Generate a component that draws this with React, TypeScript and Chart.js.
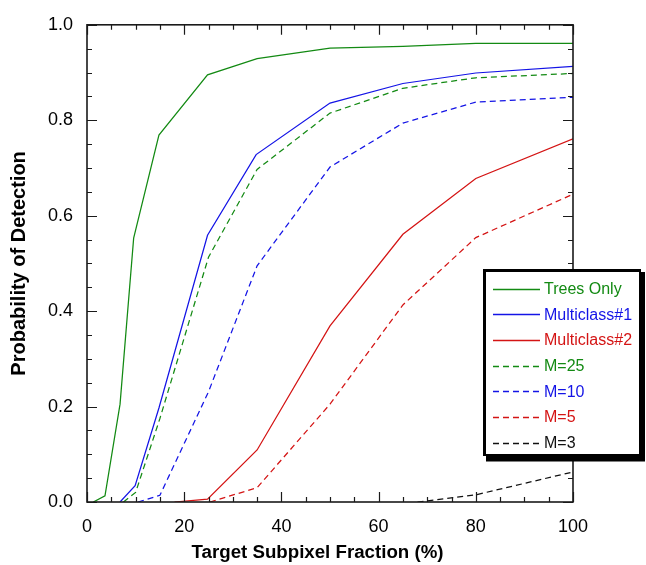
import React, { useEffect, useRef } from "react";
import { Chart, registerables } from "chart.js";

Chart.register(...registerables);

const GREEN = "#138a13";
const BLUE = "#1414e6";
const RED = "#d41414";
const BLACK = "#111111";

// Series values (x = target subpixel fraction %, y = probability of detection)
const treesOnlyX = [1.3, 3.7, 6.8, 9.6, 14.8, 24.8, 35, 50, 65, 80, 100];
const treesOnlyY = [0, 0.013, 0.205, 0.553, 0.769, 0.895, 0.929, 0.951, 0.955, 0.961, 0.961];

const multi1X = [6.8, 9.9, 14.8, 24.8, 34.8, 50, 65, 80, 100];
const multi1Y = [0, 0.034, 0.197, 0.559, 0.728, 0.836, 0.877, 0.899, 0.913];

const multi2X = [18, 24.8, 35, 50, 65, 80, 100];
const multi2Y = [0, 0.006, 0.109, 0.369, 0.561, 0.678, 0.761];

const m25X = [7.5, 10, 15, 25, 35, 50, 65, 80, 100];
const m25Y = [0, 0.02, 0.175, 0.513, 0.697, 0.815, 0.867, 0.889, 0.898];

const m10X = [10.5, 15, 25, 35, 50, 65, 80, 100];
const m10Y = [0, 0.014, 0.231, 0.495, 0.702, 0.794, 0.838, 0.848];

const m5X = [25.3, 35, 50, 65, 80, 100];
const m5Y = [0, 0.03, 0.205, 0.413, 0.554, 0.645];

const m3X = [68, 80, 100];
const m3Y = [0, 0.015, 0.063];

const seriesLabels = ["Trees Only", "Multiclass#1", "Multiclass#2", "M=25", "M=10", "M=5", "M=3"];
const seriesColors = [GREEN, BLUE, RED, GREEN, BLUE, RED, BLACK];
const seriesDashed = [false, false, false, true, true, true, true];
const seriesXs = [treesOnlyX, multi1X, multi2X, m25X, m10X, m5X, m3X];
const seriesYs = [treesOnlyY, multi1Y, multi2Y, m25Y, m10Y, m5Y, m3Y];

const xTickValues = [0, 20, 40, 60, 80, 100];
const yTickValues = [0, 0.2, 0.4, 0.6, 0.8, 1.0];

const xTitle = "Target Subpixel Fraction (%)";
const yTitle = "Probability of Detection";

const DASH = [6, 4];
const FONT = "'Liberation Sans', Arial, Helvetica, sans-serif";

const framePlugin = {
  id: "frameAndLegend",
  afterDatasetsDraw(chart: any) {
    const { ctx, chartArea, scales } = chart;
    const { left, right, top, bottom } = chartArea;
    const xs = scales.x;
    const ys = scales.y;
    ctx.save();
    // frame
    ctx.strokeStyle = "#1a1a1a";
    ctx.lineWidth = 1.6;
    ctx.setLineDash([]);
    ctx.strokeRect(left, top, right - left, bottom - top);
    // ticks
    ctx.lineWidth = 1.2;
    ctx.beginPath();
    for (let v = 0; v <= 100.001; v += 5) {
      const px = Math.round(xs.getPixelForValue(v)) + 0.5;
      const len = v % 20 === 0 ? 10 : 5;
      ctx.moveTo(px, bottom);
      ctx.lineTo(px, bottom - len);
      ctx.moveTo(px, top);
      ctx.lineTo(px, top + len);
    }
    for (let i = 0; i <= 20; i++) {
      const v = i * 0.05;
      const py = Math.round(ys.getPixelForValue(v)) + 0.5;
      const len = i % 4 === 0 ? 10 : 5;
      ctx.moveTo(left, py);
      ctx.lineTo(left + len, py);
      ctx.moveTo(right, py);
      ctx.lineTo(right - len, py);
    }
    ctx.stroke();

    // axis titles
    ctx.fillStyle = "#000";
    ctx.textBaseline = "alphabetic";
    ctx.textAlign = "center";
    ctx.font = `bold 18.7px ${FONT}`;
    ctx.fillText(xTitle, 317.5, 557.5);
    ctx.save();
    ctx.translate(24.5, (top + bottom) / 2);
    ctx.rotate(-Math.PI / 2);
    ctx.font = `bold 20px ${FONT}`;
    ctx.fillText(yTitle, 0, 0);
    ctx.restore();

    // legend box with shadow
    ctx.fillStyle = "#000";
    ctx.fillRect(486, 272, 159, 189.5);
    ctx.fillRect(483, 269, 158, 187);
    ctx.fillStyle = "#fff";
    ctx.fillRect(486, 272, 153, 182);

    ctx.font = `16px ${FONT}`;
    ctx.textBaseline = "middle";
    ctx.textAlign = "left";
    for (let i = 0; i < seriesLabels.length; i++) {
      const y = 288.5 + i * 25.7;
      ctx.strokeStyle = seriesColors[i];
      ctx.lineWidth = 1.3;
      ctx.setLineDash(seriesDashed[i] ? DASH : []);
      ctx.beginPath();
      ctx.moveTo(493, Math.round(y) + 0.5);
      ctx.lineTo(540, Math.round(y) + 0.5);
      ctx.stroke();
      ctx.fillStyle = seriesColors[i];
      ctx.fillText(seriesLabels[i], 544, y + 1);
    }
    ctx.restore();
  },
};

export default function App() {
  const ref = useRef<HTMLCanvasElement | null>(null);

  useEffect(() => {
    if (!ref.current) return;
    const datasets = seriesLabels.map((label, i) => ({
      label,
      data: seriesXs[i].map((x, j) => ({ x, y: seriesYs[i][j] })),
      borderColor: seriesColors[i],
      backgroundColor: seriesColors[i],
      borderWidth: 1.25,
      borderDash: seriesDashed[i] ? DASH : [],
      pointRadius: 0,
      fill: false,
      tension: 0,
    }));

    const chart = new Chart(ref.current, {
      type: "line",
      data: { datasets },
      options: {
        animation: false,
        responsive: false,
        devicePixelRatio: 1,
        layout: { padding: { top: 17, right: 73, left: 0, bottom: 0 } },
        plugins: {
          legend: { display: false },
          tooltip: { enabled: false },
        },
        scales: {
          x: {
            type: "linear",
            min: 0,
            max: 100,
            afterFit: (s: any) => {
              s.height = 63;
            },
            afterBuildTicks: (s: any) => {
              s.ticks = xTickValues.map((v) => ({ value: v }));
            },
            grid: { display: false, drawTicks: false },
            border: { display: false },
            ticks: {
              autoSkip: false,
              maxRotation: 0,
              padding: 14,
              color: "#000",
              font: { family: FONT, size: 18 },
              callback: (v: any) => String(v),
            },
            title: { display: false },
          },
          y: {
            type: "linear",
            min: 0,
            max: 1,
            afterFit: (s: any) => {
              s.width = 87;
            },
            afterBuildTicks: (s: any) => {
              s.ticks = yTickValues.map((v) => ({ value: v }));
            },
            grid: { display: false, drawTicks: false },
            border: { display: false },
            ticks: {
              autoSkip: false,
              padding: 14,
              color: "#000",
              font: { family: FONT, size: 18 },
              callback: (v: any) => Number(v).toFixed(1),
            },
            title: { display: false },
          },
        },
      },
      plugins: [framePlugin],
    });
    return () => chart.destroy();
  }, []);

  return (
    <div
      style={{
        position: "fixed",
        left: 0,
        top: 0,
        width: 646,
        height: 565,
        background: "#fff",
      }}
    >
      <canvas ref={ref} width={646} height={565} style={{ display: "block" }} />
    </div>
  );
}
